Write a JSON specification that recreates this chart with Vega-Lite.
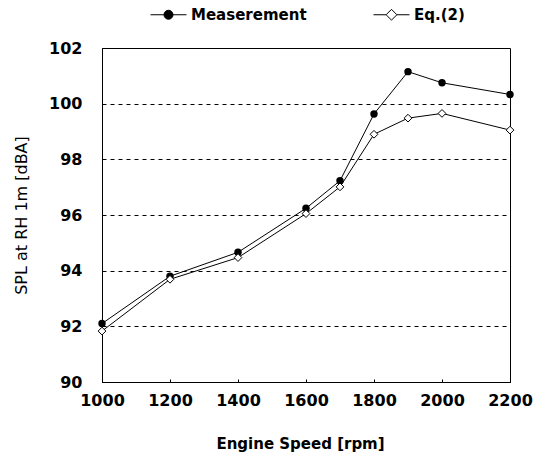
{
  "$schema": "https://vega.github.io/schema/vega-lite/v6.json",
  "width": 408,
  "height": 334,
  "autosize": {"type": "none"},
  "padding": {"left": 102, "top": 48, "right": 27, "bottom": 75},
  "config": {
    "font": "DejaVu Sans",
    "view": {"stroke": "black", "strokeWidth": 1}
  },
  "data": {
    "values": [
      {"rpm": 1000, "spl": 92.1, "s": "Measerement"},
      {"rpm": 1200, "spl": 93.8, "s": "Measerement"},
      {"rpm": 1400, "spl": 94.66, "s": "Measerement"},
      {"rpm": 1600, "spl": 96.24, "s": "Measerement"},
      {"rpm": 1700, "spl": 97.23, "s": "Measerement"},
      {"rpm": 1800, "spl": 99.63, "s": "Measerement"},
      {"rpm": 1900, "spl": 101.15, "s": "Measerement"},
      {"rpm": 2000, "spl": 100.75, "s": "Measerement"},
      {"rpm": 2200, "spl": 100.33, "s": "Measerement"},
      {"rpm": 1000, "spl": 91.83, "s": "Eq.(2)"},
      {"rpm": 1200, "spl": 93.69, "s": "Eq.(2)"},
      {"rpm": 1400, "spl": 94.47, "s": "Eq.(2)"},
      {"rpm": 1600, "spl": 96.05, "s": "Eq.(2)"},
      {"rpm": 1700, "spl": 97.01, "s": "Eq.(2)"},
      {"rpm": 1800, "spl": 98.9, "s": "Eq.(2)"},
      {"rpm": 1900, "spl": 99.48, "s": "Eq.(2)"},
      {"rpm": 2000, "spl": 99.65, "s": "Eq.(2)"},
      {"rpm": 2200, "spl": 99.05, "s": "Eq.(2)"}
    ]
  },
  "encoding": {
    "x": {
      "field": "rpm",
      "type": "quantitative",
      "scale": {"domain": [1000, 2200]},
      "axis": {
        "values": [1000, 1200, 1400, 1600, 1800, 2000, 2200],
        "format": "d",
        "labelFlush": false,
        "title": "Engine Speed [rpm]",
        "titleX": 198,
        "grid": false,
        "tickSize": -3,
        "tickColor": "black",
        "domainColor": "black",
        "labelFontSize": 16,
        "labelFontWeight": "bold",
        "labelColor": "black",
        "labelPadding": 13,
        "titleFontSize": 15,
        "titleFontWeight": "bold",
        "titleColor": "black",
        "titlePadding": 28
      }
    },
    "y": {
      "field": "spl",
      "type": "quantitative",
      "scale": {"domain": [90, 102]},
      "axis": {
        "values": [90, 92, 94, 96, 98, 100, 102],
        "format": "d",
        "labelFlush": false,
        "title": "SPL at RH 1m [dBA]",
        "grid": true,
        "gridColor": "black",
        "gridDash": [4, 4],
        "gridWidth": 1,
        "ticks": false,
        "domainColor": "black",
        "labelFontSize": 16,
        "labelFontWeight": "bold",
        "labelColor": "black",
        "labelPadding": 20,
        "titleFontSize": 16,
        "titleFontWeight": "normal",
        "titleColor": "black",
        "titlePadding": 19
      }
    }
  },
  "layer": [
    {
      "mark": {"type": "line", "color": "black", "strokeWidth": 1},
      "encoding": {"detail": {"field": "s"}}
    },
    {
      "transform": [{"filter": "datum.s === 'Measerement'"}],
      "mark": {"type": "point", "shape": "circle", "filled": true, "color": "black", "size": 55, "opacity": 1}
    },
    {
      "transform": [{"filter": "datum.s === 'Eq.(2)'"}],
      "mark": {"type": "point", "shape": "diamond", "fill": "white", "stroke": "black", "strokeWidth": 1, "size": 60, "opacity": 1}
    },
    {
      "mark": {"type": "point", "opacity": 0},
      "encoding": {
        "shape": {
          "field": "s",
          "type": "nominal",
          "scale": {
            "domain": ["Measerement", "Eq.(2)"],
            "range": [
              "M-1,0H1M-0.25,0A0.25,0.25 0 1,0 0.25,0A0.25,0.25 0 1,0 -0.25,0Z",
              "M-1,0H-0.3M0.3,0H1M0,-0.3L0.3,0L0,0.3L-0.3,0Z"
            ]
          },
          "legend": {
            "title": null,
            "orient": "none",
            "direction": "horizontal",
            "legendX": 48,
            "legendY": -52,
            "symbolSize": 1296,
            "symbolOpacity": 1,
            "symbolStrokeWidth": 1,
            "labelFontSize": 15,
            "labelFontWeight": "bold",
            "labelColor": "black",
            "labelOffset": 4,
            "columnPadding": 64
          }
        },
        "fill": {
          "field": "s",
          "type": "nominal",
          "scale": {"domain": ["Measerement", "Eq.(2)"], "range": ["black", "white"]}
        },
        "stroke": {
          "field": "s",
          "type": "nominal",
          "scale": {"domain": ["Measerement", "Eq.(2)"], "range": ["black", "black"]}
        }
      }
    }
  ]
}
